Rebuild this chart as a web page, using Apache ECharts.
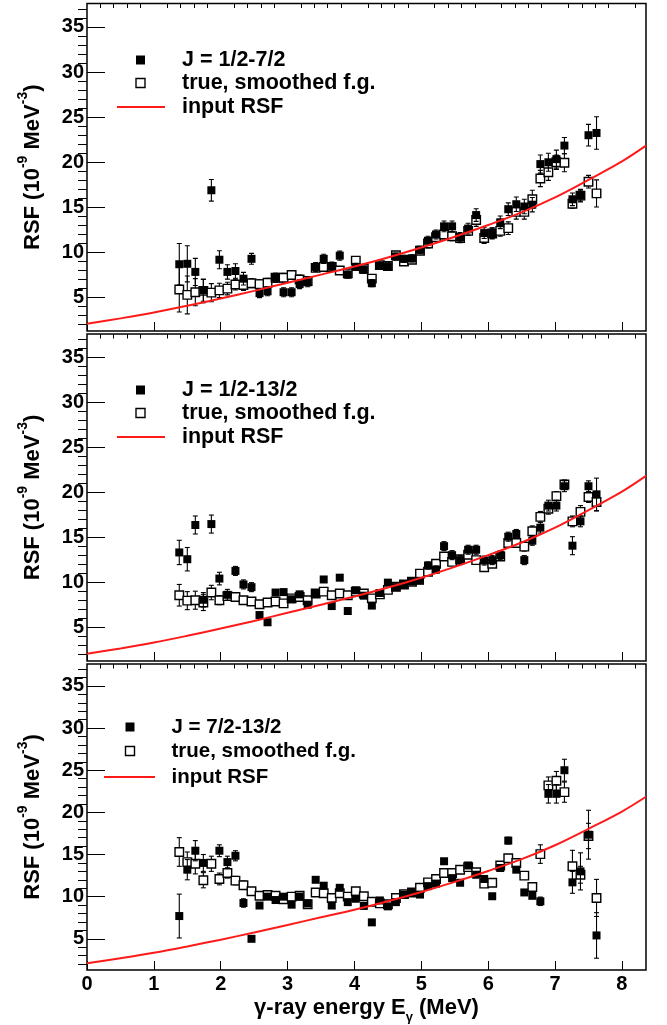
<!DOCTYPE html>
<html>
<head>
<meta charset="utf-8">
<script src="https://cdn.jsdelivr.net/npm/echarts@6/dist/echarts.min.js"></script>
<style>
  html, body { margin: 0; padding: 0; background: #fff; }
  #chart { width: 667px; height: 1025px; }
</style>
</head>
<body>
<div id="chart"></div>
<script>
// Gamma-ray energy bins (MeV)
const energy = [1.38,1.50,1.62,1.74,1.86,1.98,2.10,2.22,2.34,2.46,2.58,2.70,2.82,2.94,3.06,3.18,3.30,3.42,3.54,3.66,3.78,3.90,4.02,4.14,4.26,4.38,4.50,4.62,4.74,4.86,4.98,5.10,5.22,5.34,5.46,5.58,5.70,5.82,5.94,6.06,6.18,6.30,6.42,6.54,6.66,6.78,6.90,7.02,7.14,7.26,7.38,7.50,7.62];

// Spin window J = 1/2-7/2
const spinLowRSF = [8.7,8.75,7.85,5.8,16.9,9.2,7.85,7.95,7.1,9.3,5.5,5.7,7.2,5.6,5.6,6.5,6.7,8.4,9.3,8.45,9.65,7.55,8.4,8.1,6.6,8.55,8.45,9.55,9.3,9.35,10.3,11.3,12.0,12.9,12.9,11.7,12.65,14.15,12.15,12.15,13.35,14.8,15.35,15.1,15.3,19.8,20.0,20.35,21.85,15.9,16.3,23.0,23.25];
const spinLowErr = [2.3,2.0,1.5,1.2,1.2,1.0,0.8,0.8,0.7,0.6,0.5,0.5,0.5,0.5,0.5,0.5,0.5,0.5,0.5,0.5,0.5,0.4,0.4,0.4,0.4,0.4,0.4,0.4,0.4,0.4,0.4,0.5,0.5,0.6,0.6,0.5,0.6,0.7,0.6,0.6,0.7,0.7,0.8,0.8,0.8,1.0,1.0,1.0,0.9,0.7,0.7,1.2,1.8];
const spinLowTrue = [5.9,5.3,5.6,5.75,5.55,5.8,6.0,6.45,6.4,6.6,6.5,6.65,7.2,7.2,7.5,7.0,6.85,8.3,8.4,8.4,8.0,7.7,9.1,8.2,7.1,8.6,8.5,9.7,9.0,9.2,10.2,11.0,11.7,12.0,11.8,11.6,12.4,13.6,11.6,12.1,12.4,12.7,14.5,14.5,15.9,18.2,18.9,20.0,19.95,15.4,16.3,17.85,16.55];
const spinLowTrueErr = [2.5,2.1,1.5,1.3,1.0,0.8,0.7,0.6,0.6,0.5,0.5,0.5,0.5,0.5,0.5,0.5,0.4,0.4,0.4,0.4,0.4,0.4,0.4,0.4,0.4,0.4,0.4,0.4,0.4,0.4,0.4,0.5,0.5,0.5,0.5,0.5,0.5,0.7,0.6,0.6,0.6,0.7,0.8,0.8,1.0,0.9,0.9,0.8,1.0,0.5,0.6,0.7,1.5];

// Spin window J = 1/2-13/2
const spinWideRSF = [13.35,12.6,16.4,8.1,16.5,10.45,8.65,11.3,9.8,9.5,6.4,5.6,8.9,8.95,8.15,8.7,7.55,8.75,10.35,7.4,10.55,6.85,9.15,8.55,7.45,8.85,10.0,9.5,9.8,10.15,10.2,11.9,11.45,14.05,13.05,12.5,13.65,13.65,12.45,12.5,13.05,15.1,15.4,12.5,14.65,16.1,18.55,18.55,20.7,14.1,16.8,20.7,19.8];
const spinWideErr = [1.35,1.3,1.0,0.8,1.0,0.7,0.6,0.5,0.5,0.5,0.3,0.3,0.3,0.3,0.3,0.3,0.3,0.3,0.3,0.3,0.3,0.3,0.3,0.3,0.3,0.3,0.3,0.3,0.3,0.3,0.3,0.4,0.4,0.5,0.5,0.5,0.5,0.5,0.5,0.5,0.5,0.5,0.5,0.5,0.5,0.6,0.6,0.6,0.6,1.0,0.6,0.6,1.8];
const spinWideTrue = [8.6,8.0,8.05,7.8,8.9,8.05,8.5,8.4,8.05,7.9,7.6,7.8,7.9,7.7,8.25,8.4,8.05,8.8,9.0,8.6,8.8,8.6,9.0,8.8,8.25,8.7,9.2,9.55,9.8,10.1,11.0,11.2,12.1,12.9,12.3,12.6,13.1,12.5,11.7,12.1,12.9,14.4,14.4,14.0,15.7,17.3,18.2,19.6,20.9,16.8,17.85,19.5,18.95];
const spinWideTrueErr = [1.2,1.0,1.0,0.9,0.8,0.5,0.4,0.4,0.4,0.3,0.3,0.3,0.3,0.3,0.3,0.3,0.3,0.3,0.3,0.3,0.3,0.3,0.3,0.3,0.3,0.3,0.3,0.3,0.3,0.3,0.3,0.3,0.3,0.3,0.3,0.3,0.3,0.3,0.3,0.3,0.3,0.3,0.3,0.5,0.6,0.6,0.6,0.5,0.5,0.6,0.7,0.6,1.0];

// Spin window J = 7/2-13/2
const spinHighRSF = [7.7,13.2,15.45,14.0,null,15.45,14.1,14.85,9.25,5.0,8.95,10.0,9.6,10.0,9.05,10.0,9.2,12.0,11.3,8.95,11.05,9.35,9.75,8.9,6.95,9.55,8.85,9.35,10.25,10.45,10.25,11.25,11.55,14.2,12.2,11.65,13.7,12.6,12.1,10.05,13.4,16.65,13.2,10.5,10.1,9.45,22.2,22.2,25.0,11.7,13.0,17.35,5.4];
const spinHighErr = [2.6,1.2,1.2,1.0,0.0,0.7,0.7,0.6,0.5,0.3,0.3,0.3,0.3,0.3,0.3,0.3,0.3,0.3,0.3,0.3,0.3,0.3,0.3,0.3,0.3,0.3,0.3,0.3,0.3,0.3,0.3,0.3,0.3,0.3,0.3,0.3,0.3,0.3,0.3,0.3,0.3,0.4,0.3,0.3,0.3,0.5,1.1,1.1,1.3,1.3,2.2,2.9,2.7];
const spinHighTrue = [15.3,14.1,13.9,11.95,13.9,12.1,12.8,11.9,11.35,10.65,10.1,10.2,10.1,9.7,10.0,10.1,9.1,10.5,10.4,9.85,10.4,10.0,10.65,10.05,9.4,9.2,9.1,9.85,10.3,10.5,11.05,11.7,12.1,12.8,12.8,13.2,13.5,12.9,11.55,11.65,13.7,14.55,14.0,12.5,11.15,15.05,23.2,23.75,22.4,13.6,12.6,17.2,9.85];
const spinHighTrueErr = [1.7,1.2,1.2,0.9,0.9,0.7,0.6,0.5,0.5,0.3,0.3,0.3,0.3,0.3,0.3,0.3,0.3,0.3,0.3,0.3,0.3,0.3,0.3,0.3,0.3,0.3,0.3,0.3,0.3,0.3,0.3,0.3,0.3,0.3,0.3,0.3,0.3,0.3,0.3,0.3,0.3,0.4,0.4,0.4,0.4,1.1,1.0,1.1,1.2,1.9,1.0,1.5,2.2];

// Input strength function
const inputEnergy = [0,0.5,1,1.5,2,2.5,3,3.5,4,4.5,5,5.5,6,6.5,7,7.5,8,8.36];
const inputRSF = [2.1,2.7,3.35,4.1,4.9,5.75,6.65,7.55,8.45,9.45,10.55,11.75,13.05,14.45,16.1,18.05,20.1,21.85];

// Axis ticks
const xMajorTicks = [0,1,2,3,4,5,6,7,8];
const xMinorTicks = [0.2,0.4,0.6,0.8,1.2,1.4,1.6,1.8,2.2,2.4,2.6,2.8,3.2,3.4,3.6,3.8,4.2,4.4,4.6,4.8,5.2,5.4,5.6,5.8,6.2,6.4,6.6,6.8,7.2,7.4,7.6,7.8,8.2];
const yMajorTicks = [5,10,15,20,25,30,35];
const yMinorTicks = [2,3,4,6,7,8,9,11,12,13,14,16,17,18,19,21,22,23,24,26,27,28,29,31,32,33,34,36,37];

const spinLabels = ['J = 1/2-7/2', 'J = 1/2-13/2', 'J = 7/2-13/2'];
const trueLabel = 'true, smoothed f.g.';
const inputLabel = 'input RSF';

const panels = [
  { label: spinLabels[0], rsf: spinLowRSF, err: spinLowErr, tru: spinLowTrue, truErr: spinLowTrueErr },
  { label: spinLabels[1], rsf: spinWideRSF, err: spinWideErr, tru: spinWideTrue, truErr: spinWideTrueErr },
  { label: spinLabels[2], rsf: spinHighRSF, err: spinHighErr, tru: spinHighTrue, truErr: spinHighTrueErr }
];

const FONT = '"Liberation Sans", Arial, Helvetica, sans-serif';
const X_MIN = 0, X_MAX = 8.36, Y_MIN = 1.3, Y_MAX = 37.6;

const gridBoxes = [
  { top: 3.5, height: 327.5 },
  { top: 334, height: 327 },
  { top: 664, height: 307 }
];

const legendPos = [
  { mx: 140.5, tx: 182, lx0: 117, lx1: 165, y: [60, 83, 107], fs: 21.5 },
  { mx: 140.5, tx: 182, lx0: 117, lx1: 165, y: [390, 413, 437], fs: 21.5 },
  { mx: 130, tx: 171.5, lx0: 104, lx1: 155, y: [727, 751, 777], fs: 20.5 }
];

function points(vals) {
  const out = [];
  energy.forEach((e, i) => { if (vals[i] != null) out.push([e, vals[i]]); });
  return out;
}
function errPoints(vals, errs) {
  const out = [];
  energy.forEach((e, i) => { if (vals[i] != null) out.push([e, vals[i], errs[i]]); });
  return out;
}

function errorSeries(axis, vals, errs, z) {
  return {
    type: 'custom',
    xAxisIndex: axis, yAxisIndex: axis,
    z: z, silent: true, clip: true,
    data: errPoints(vals, errs),
    encode: { x: 0, y: 1 },
    renderItem: function (params, api) {
      const x = api.value(0), y = api.value(1), e = api.value(2);
      const hi = api.coord([x, y + e]);
      const lo = api.coord([x, y - e]);
      const w = 2.5;
      const style = { stroke: '#000', lineWidth: 1.1 };
      return {
        type: 'group',
        children: [
          { type: 'line', shape: { x1: hi[0], y1: hi[1], x2: lo[0], y2: lo[1] }, style: style },
          { type: 'line', shape: { x1: hi[0] - w, y1: hi[1], x2: hi[0] + w, y2: hi[1] }, style: style },
          { type: 'line', shape: { x1: lo[0] - w, y1: lo[1], x2: lo[0] + w, y2: lo[1] }, style: style }
        ]
      };
    }
  };
}

const grid = [], xAxis = [], yAxis = [], series = [], graphic = [];

panels.forEach((p, k) => {
  grid.push({
    left: 87, width: 559, top: gridBoxes[k].top, height: gridBoxes[k].height,
    show: true, borderColor: '#000', borderWidth: 1.5, backgroundColor: 'transparent'
  });
  const isBottom = k === panels.length - 1;
  // major x axis
  xAxis.push({
    type: 'value', gridIndex: k, min: X_MIN, max: X_MAX,
    axisLine: { show: false },
    axisTick: { show: true, inside: true, length: 9, customValues: xMajorTicks, lineStyle: { color: '#000', width: 1 } },
    axisLabel: {
      show: isBottom, customValues: xMajorTicks, margin: 4,
      color: '#000', fontFamily: FONT, fontWeight: 'bold', fontSize: 20
    },
    splitLine: { show: false },
    name: isBottom ? '{a|γ-ray energy E}{s|γ}{a| (MeV)}' : '',
    nameLocation: 'middle', nameGap: 24,
    nameTextStyle: {
      rich: {
        a: { fontFamily: FONT, fontWeight: 'bold', fontSize: 22, color: '#000', lineHeight: 25, verticalAlign: 'bottom' },
        s: { fontFamily: FONT, fontWeight: 'bold', fontSize: 13, color: '#000', lineHeight: 25, verticalAlign: 'bottom', padding: [0, 0, -5, 0] }
      }
    }
  });
  // minor x axis
  xAxis.push({
    type: 'value', gridIndex: k, min: X_MIN, max: X_MAX,
    axisLine: { show: false },
    axisTick: { show: true, inside: true, length: 4.5, customValues: xMinorTicks, lineStyle: { color: '#000', width: 1 } },
    axisLabel: { show: false },
    splitLine: { show: false }
  });
  // major y axis
  yAxis.push({
    type: 'value', gridIndex: k, min: Y_MIN, max: Y_MAX,
    axisLine: { show: false },
    axisTick: { show: true, inside: true, length: 18, customValues: yMajorTicks, lineStyle: { color: '#000', width: 1 } },
    axisLabel: { customValues: yMajorTicks, margin: 3, color: '#000', fontFamily: FONT, fontWeight: 'bold', fontSize: 20 },
    splitLine: { show: false },
    name: '{a|RSF (10}{s|-9}{a| MeV}{s|-3}{a|)}',
    nameLocation: 'middle', nameGap: 43, nameRotate: 90,
    nameTextStyle: {
      rich: {
        a: { fontFamily: FONT, fontWeight: 'bold', fontSize: 22, color: '#000', lineHeight: 28, verticalAlign: 'bottom' },
        s: { fontFamily: FONT, fontWeight: 'bold', fontSize: 14, color: '#000', lineHeight: 28, verticalAlign: 'top' }
      }
    }
  });
  // minor y axis
  yAxis.push({
    type: 'value', gridIndex: k, min: Y_MIN, max: Y_MAX,
    axisLine: { show: false },
    axisTick: { show: true, inside: true, length: 9, customValues: yMinorTicks, lineStyle: { color: '#000', width: 1 } },
    axisLabel: { show: false },
    splitLine: { show: false }
  });

  const ax = 2 * k;
  series.push(errorSeries(ax, p.tru, p.truErr, 2));
  series.push({
    type: 'scatter', name: trueLabel, xAxisIndex: ax, yAxisIndex: ax, z: 3,
    symbol: 'rect', symbolSize: 8.5, silent: true,
    itemStyle: { color: '#fff', borderColor: '#000', borderWidth: 1.4, opacity: 1 },
    data: points(p.tru)
  });
  series.push(errorSeries(ax, p.rsf, p.err, 4));
  series.push({
    type: 'scatter', name: p.label, xAxisIndex: ax, yAxisIndex: ax, z: 5,
    symbol: 'rect', symbolSize: 8, silent: true,
    itemStyle: { color: '#000', opacity: 1 },
    data: points(p.rsf)
  });
  series.push({
    type: 'line', name: inputLabel, xAxisIndex: ax, yAxisIndex: ax, z: 6,
    smooth: 0.35, showSymbol: false, symbol: 'none', silent: true, clip: true,
    lineStyle: { color: '#ff1a1a', width: 2 },
    data: inputEnergy.map((e, i) => [e, inputRSF[i]])
  });

  // legend block
  const L = legendPos[k];
  const textStyle = (t, y) => ({
    type: 'text', x: L.tx, y: y, silent: true,
    style: { text: t, fill: '#000', font: 'bold ' + L.fs + 'px ' + FONT, verticalAlign: 'middle', align: 'left' }
  });
  graphic.push({ type: 'rect', silent: true, shape: { x: L.mx - 4.5, y: L.y[0] - 4.5, width: 9, height: 9 }, style: { fill: '#000' } });
  graphic.push(textStyle(p.label, L.y[0]));
  graphic.push({ type: 'rect', silent: true, shape: { x: L.mx - 4.5, y: L.y[1] - 4.5, width: 9, height: 9 }, style: { fill: '#fff', stroke: '#000', lineWidth: 1.4 } });
  graphic.push(textStyle(trueLabel, L.y[1]));
  graphic.push({ type: 'line', silent: true, shape: { x1: L.lx0, y1: L.y[2], x2: L.lx1, y2: L.y[2] }, style: { stroke: '#ff1a1a', lineWidth: 2 } });
  graphic.push(textStyle(inputLabel, L.y[2]));
});

const chart = echarts.init(document.getElementById('chart'), null, { renderer: 'canvas' });
chart.setOption({
  animation: false,
  backgroundColor: '#fff',
  grid: grid,
  xAxis: xAxis,
  yAxis: yAxis,
  series: series,
  graphic: graphic
});
</script>
</body>
</html>
